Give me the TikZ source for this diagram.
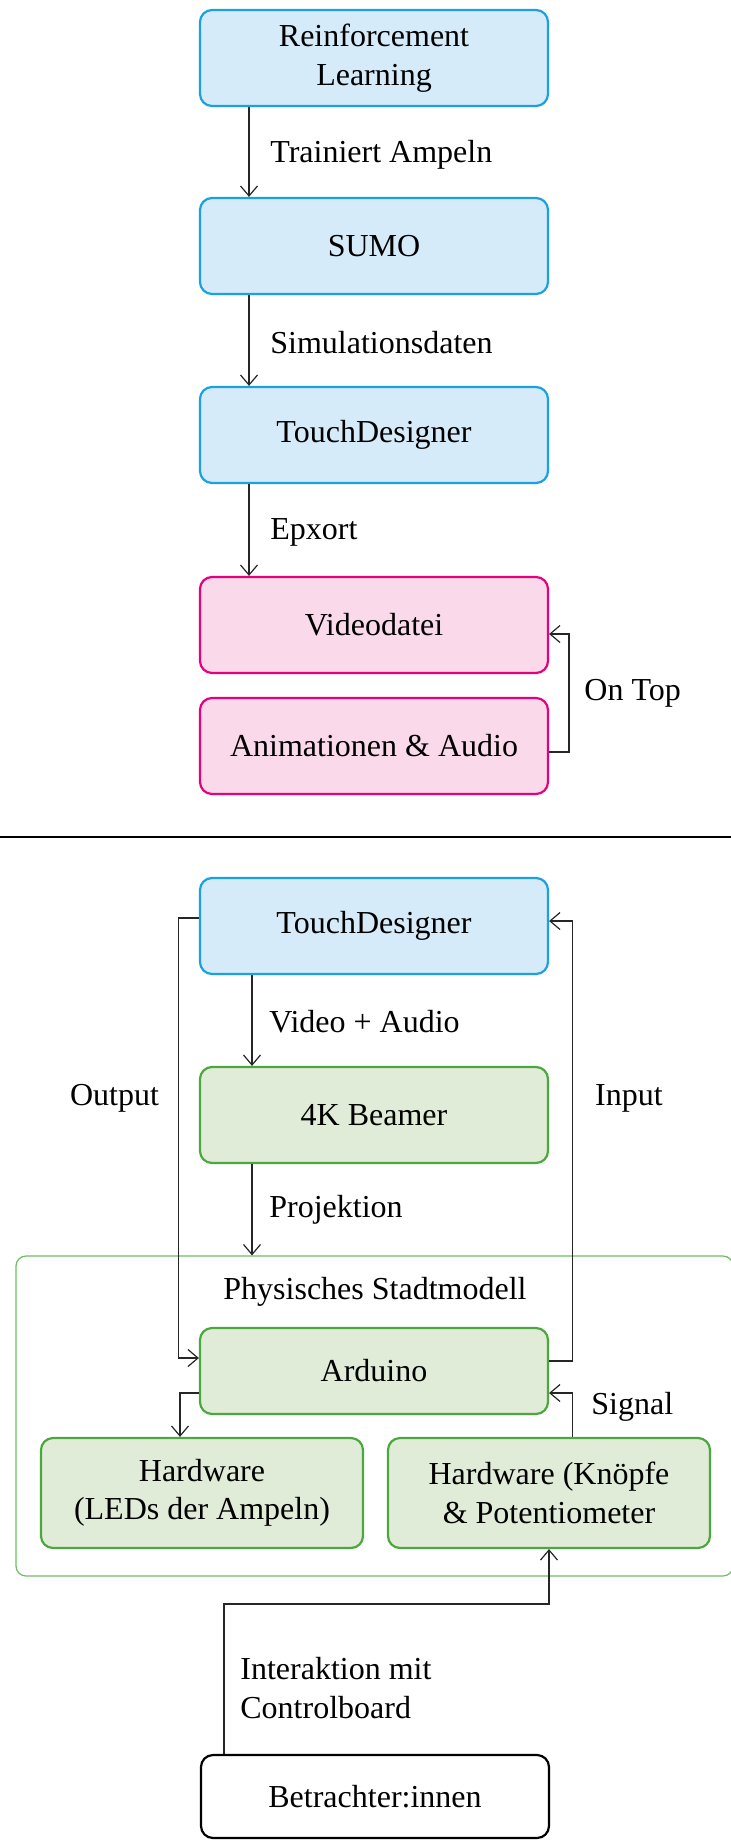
\documentclass[tikz,border=0pt]{standalone}
\usepackage{fontspec}
\setmainfont{Liberation Serif}
\usetikzlibrary{arrows.meta}
\definecolor{blueF}{HTML}{D5EBF9}
\definecolor{blueD}{HTML}{1BA1E2}
\definecolor{pinkF}{HTML}{FADAEA}
\definecolor{pinkD}{HTML}{E6007E}
\definecolor{greenF}{HTML}{E1ECD8}
\definecolor{greenD}{HTML}{4AA83C}
\definecolor{contD}{HTML}{6BBF5E}
\definecolor{lineC}{HTML}{262626}
\begin{document}
\begin{tikzpicture}[x=0.5pt,y=-0.5pt,
  font=\fontsize{16}{19.2}\selectfont,
  box/.style={rounded corners=6pt, line width=1.1pt, minimum width=174pt, minimum height=48pt, inner sep=0pt, align=center},
  bluebox/.style={box, draw=blueD, fill=blueF},
  pinkbox/.style={box, draw=pinkD, fill=pinkF},
  greenbox/.style={box, draw=greenD, fill=greenF},
  plainbox/.style={box, draw=black, fill=white},
  cont/.style={draw=contD, line width=0.6pt, rounded corners=5pt, minimum width=358.5pt, minimum height=160pt, inner sep=0pt},
  arr/.style={draw=lineC, line width=0.6pt, -{Straight Barb[length=5pt,width=8.5pt]}},
  lbl/.style={anchor=west, inner sep=0pt, align=left},
  txt/.style={inner sep=0pt, align=center}]
\useasboundingbox (0,0) rectangle (731,1841);

% top section
\node[bluebox] (rl) at (374,58) {Reinforcement\\Learning};
\node[bluebox] (sumo) at (374,246) {SUMO};
\node[bluebox] (td1) at (374,435) {TouchDesigner};
\node[pinkbox] (vid) at (374,625) {Videodatei};
\node[pinkbox] (anim) at (374,746) {Animationen \& Audio};

\draw[arr] (rl.south -| 249,0) -- (sumo.north -| 249,0);
\draw[arr] (sumo.south -| 249,0) -- (td1.north -| 249,0);
\draw[arr] (td1.south -| 249,0) -- (vid.north -| 249,0);
\node[lbl] (l1) at (270,155) {Trainiert Ampeln};
\node[lbl] (l2) at (270,343) {Simulationsdaten};
\node[lbl] (l3) at (270,532) {Epxort};
\draw[arr] (anim.east |- 0,752) -- (569,752) -- (569,634) -- (vid.east |- 0,634);
\node[lbl] (l4) at (584,693) {On Top};

% separator
\draw[line width=1pt, black] (0,837) -- (731,837);

% bottom section
\node[cont] (city) at (374.5,1416) {};
\node[bluebox] (td2) at (374,926) {TouchDesigner};
\node[greenbox] (beam) at (374,1115) {4K Beamer};
\node[txt] (phys) at (375,1292) {Physisches Stadtmodell};
\node[greenbox, minimum height=43pt] (ard) at (374,1371) {Arduino};
\node[greenbox, minimum width=161pt, minimum height=55pt] (hw1) at (202,1493) {Hardware\\(LEDs der Ampeln)};
\node[greenbox, minimum width=161pt, minimum height=55pt] (hw2) at (549,1493) {Hardware (Knöpfe\\\& Potentiometer};
\node[plainbox, minimum height=41.5pt] (bet) at (375,1796.5) {Betrachter:innen};

\draw[arr] (td2.south -| 252,0) -- (beam.north -| 252,0);
\node[lbl] (l5) at (269,1022) {Video + Audio};
\draw[arr] (beam.south -| 252,0) -- (city.north -| 252,0);
\node[lbl] (l6) at (269,1210) {Projektion};

\draw[arr] (td2.west |- 0,918) -- (178.5,918) -- (178.5,1358) -- (ard.west |- 0,1358);
\draw[arr] (ard.east |- 0,1361) -- (572.5,1361) -- (572.5,921) -- (td2.east |- 0,921);
\node[txt] (l7) at (114.5,1098) {Output};
\node[txt] (l8) at (629,1098) {Input};

\draw[arr] (ard.west |- 0,1393) -- (180,1393) -- (hw1.north -| 180,0);
\draw[arr] (hw2.north -| 572.5,0) -- (572.5,1393) -- (ard.east |- 0,1393);
\node[lbl] (l9) at (591,1407) {Signal};

\draw[arr] (bet.north -| 224,0) -- (224,1604) -- (549,1604) -- (hw2.south -| 549,0);
\node[lbl] (l10) at (240,1688) {Interaktion mit\\Controlboard};
\end{tikzpicture}
\end{document}
